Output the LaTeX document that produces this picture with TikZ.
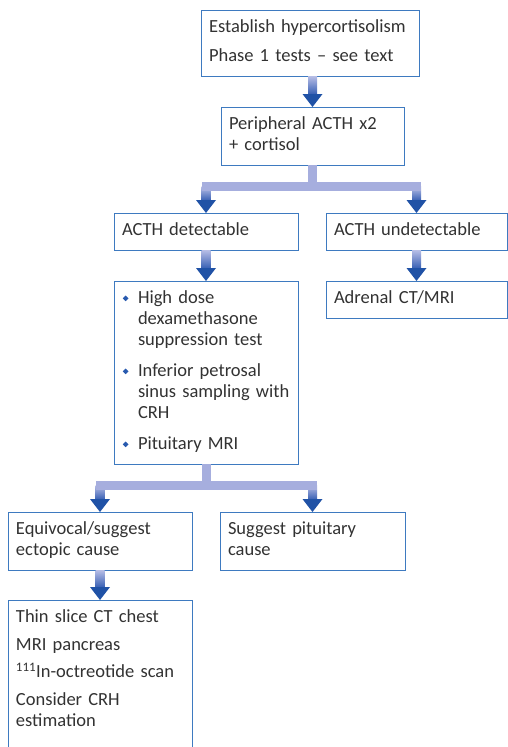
\documentclass[tikz,border=0pt]{standalone}
\usepackage{fontspec}
\setmainfont{Carlito}
\usetikzlibrary{calc}

\definecolor{boxblue}{RGB}{62,122,192}
\definecolor{textgray}{RGB}{50,50,50}
\definecolor{arrlight}{RGB}{184,190,230}
\definecolor{arrdark}{RGB}{50,92,178}
\definecolor{arrhead}{RGB}{32,82,166}
\definecolor{barlav}{RGB}{166,174,222}
\definecolor{bulblue}{RGB}{40,90,175}

% small blue diamond for the list
\newcommand{\bul}{\raisebox{2.5pt}{\textcolor{bulblue}{\rotatebox{45}{\rule{4pt}{4pt}}}}\hspace{9.5pt}}

% shaded shaft + head, from #1 down to #2
\newcommand{\flowarrow}[2]{%
	\coordinate (arrtop) at (#1 -| #2);
	\shade [top color = arrlight, bottom color = arrdark] ($(arrtop) + (-4.5, 0)$) rectangle ($(#2) + (4.5, -12)$);
	\fill [arrhead] ($(#2) + (-10, -13)$) -- (#2) -- ($(#2) + (10, -13)$) -- cycle;
}

\tikzset{
	box/.style = {draw = boxblue, line width = 1pt, anchor = north west, align = left,
		inner xsep = 8pt, inner ysep = 8pt, outer sep = 0pt, text = textgray,
		font = \fontsize{18.5}{21}\selectfont,
		execute at begin node = \strut, execute at end node = \strut},
	barline/.style = {draw = barlav, line width = 9pt}
}

\begin{document}
\begin{tikzpicture}[x = 1pt, y = -1pt]

	\useasboundingbox (0, 0) rectangle (508, 747);

	% Boxes

	\node [box, text width = 202pt] (hyper) at (201, 10) {Establish hypercortisolism\\[8pt]Phase 1 tests -- see text};
	\node [box, text width = 167pt] (periph) at (221, 107) {Peripheral ACTH x2\\+ cortisol};

	\node [box, text width = 168pt] (detect) at (114, 213) {ACTH detectable};
	\node [box, text width = 165pt] (undetect) at (326, 213) {ACTH undetectable};

	\node [box, text width = 168pt] (tests) at (114, 281) {\parbox[t]{168pt}{\hangindent = 16pt \hangafter = 0
		\strut\llap{\bul}High dose\\dexamethasone\\suppression test\\[10pt]%
		\llap{\bul}Inferior petrosal\\sinus sampling with\\CRH\\[10pt]%
		\llap{\bul}Pituitary MRI\strut}};
	\node [box, text width = 165pt] (adrenal) at (326, 281) {Adrenal CT/MRI};

	\node [box, text width = 168pt] (ectopic) at (8, 512) {Equivocal/suggest\\ectopic cause};
	\node [box, text width = 169pt] (pituit) at (220, 512) {Suggest pituitary\\cause};

	\node [box, text width = 168pt, text depth = 135pt] (imaging) at (8, 600) {Thin slice CT chest\\[7pt]MRI pancreas\\[6pt]\textsuperscript{111}In-octreotide scan\\[7pt]Consider CRH\\estimation};

	% Arrows

	\flowarrow{hyper.south}{periph.north}

	\coordinate (fork1) at ($(periph.south) + (0, 21.5)$);
	\coordinate (fork1l) at (fork1 -| detect.north);
	\coordinate (fork1r) at (fork1 -| undetect.north);
	\flowarrow{fork1l}{detect.north}
	\flowarrow{fork1r}{undetect.north}
	\draw [barline] (periph.south) -- (fork1);
	\draw [barline, line cap = rect] (fork1l) -- (fork1r);

	\flowarrow{detect.south}{tests.north}
	\flowarrow{undetect.south}{adrenal.north}

	\coordinate (fork2) at ($(tests.south) + (0, 21)$);
	\coordinate (fork2l) at (fork2 -| ectopic.north);
	\coordinate (fork2r) at (fork2 -| pituit.north);
	\flowarrow{fork2l}{ectopic.north}
	\flowarrow{fork2r}{pituit.north}
	\draw [barline] (tests.south) -- (fork2);
	\draw [barline, line cap = rect] (fork2l) -- (fork2r);

	\flowarrow{ectopic.south}{imaging.north}

\end{tikzpicture}
\end{document}
